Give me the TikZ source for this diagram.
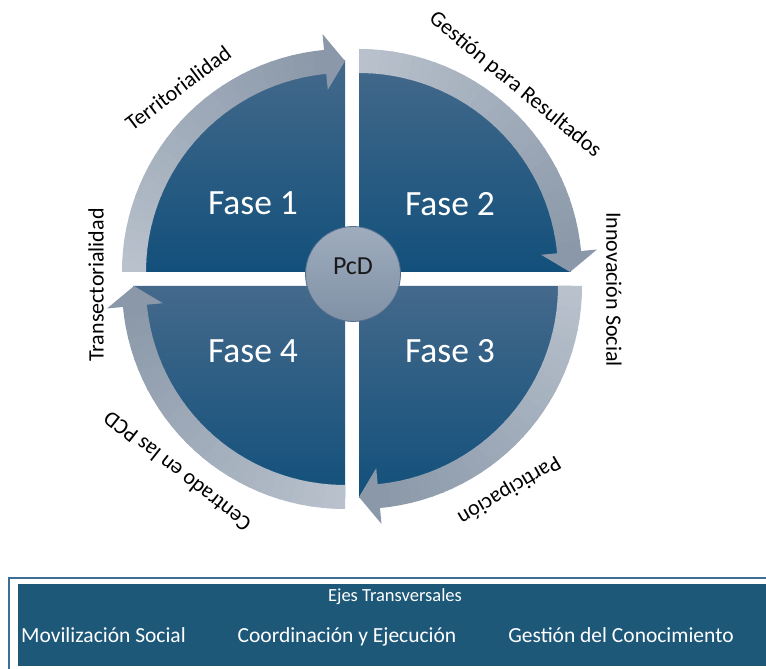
\documentclass[tikz,border=0pt]{standalone}
\usepackage{fontspec}
\setmainfont{Carlito}
\usetikzlibrary{calc}
\definecolor{bandL}{HTML}{B8C1CC}
\definecolor{bandD}{HTML}{8A98A9}
\definecolor{qTop}{HTML}{44698B}
\definecolor{qBot}{HTML}{12507B}
\definecolor{pcdTop}{HTML}{9EACBD}
\definecolor{pcdBot}{HTML}{8191A6}
\definecolor{pcdLine}{HTML}{4F6F8D}
\definecolor{boxFill}{HTML}{1E5879}
\definecolor{boxLine}{HTML}{3C6E97}
\newcommand\phasearrow[2]{%
  \foreach \i in {0,...,29}{%
    \pgfmathsetmacro\aa{#2-\i*84.6/30}%
    \pgfmathsetmacro\ab{#2-(\i+1)*84.6/30-0.4}%
    \pgfmathtruncatemacro\pp{\i*100/29}%
    \fill[bandD!\pp!bandL] (#1) ++(\aa:199) arc[start angle=\aa, end angle=\ab, radius=199] -- ++(\ab:24) arc[start angle=\ab, end angle=\aa, radius=223] -- cycle;
  }%
  \fill[bandD] ($(#1)+(#2-84.6:183)$) -- ($(#1)+(#2-90:211)$) -- ($(#1)+(#2-84.6:239)$) -- cycle;
}
\begin{document}
\begin{tikzpicture}[x=1pt,y=1pt,
  quad/.style={top color=qTop, bottom color=qBot},
  fase/.style={text=white, font=\fontsize{35.5}{40}\selectfont, inner sep=0pt},
  lab/.style={text=black, font=\fontsize{22}{26}\selectfont, inner sep=0pt},
  ejes/.style={text=white, font=\fontsize{21.5}{25}\selectfont, inner sep=0pt, anchor=base}]
\useasboundingbox (0,0) rectangle (766,669);
\fill[white] (0,0) rectangle (766,669);
% corners of the four quadrants
\coordinate (c1) at (345,397);
\coordinate (c2) at (359,397);
\coordinate (c3) at (359,383);
\coordinate (c4) at (345,383);
% quadrants
\shade[quad] (c1) -- ++(180:212) arc[start angle=180, end angle=90, radius=212] -- cycle;
\shade[quad] (c2) -- ++(90:212) arc[start angle=90, end angle=0, radius=212] -- cycle;
\shade[quad] (c3) -- ++(0:212) arc[start angle=0, end angle=-90, radius=212] -- cycle;
\shade[quad] (c4) -- ++(270:212) arc[start angle=270, end angle=180, radius=212] -- cycle;
% arrows
\phasearrow{c1}{180}
\phasearrow{c2}{90}
\phasearrow{c3}{0}
\phasearrow{c4}{270}
% centre
\node[circle, minimum size=95pt, inner sep=0pt, draw=pcdLine, line width=0.8pt, top color=pcdTop, bottom color=pcdBot] (pcd) at (353,395) {};
\node[text=black!90, font=\fontsize{26}{30}\selectfont, inner sep=0pt] (pcdt) at (353,403) {PcD};
% phases
\node[fase] (f1) at (253,466) {Fase 1};
\node[fase] (f2) at (450,465) {Fase 2};
\node[fase] (f3) at (450,318) {Fase 3};
\node[fase] (f4) at (253,318) {Fase 4};
% labels
\node[lab, rotate=37] (l1) at (178,581) {Territorialidad};
\node[lab, rotate=-39.5] (l2) at (515,584) {Gestión para Resultados};
\node[lab, rotate=-90] (l3) at (614,379.5) {Innovación Social};
\node[lab, rotate=-149.5] (l4) at (509,179) {Participación};
\node[lab, rotate=141.8] (l5) at (177,197) {Centrado en las PCD};
\node[lab, rotate=90] (l6) at (96,384) {Transectorialidad};
% bottom box
\draw[boxLine, line width=1.2pt] (9,-5) -- (9,91) -- (775,91);
\fill[boxFill] (18,3) rectangle (775,85);
\node[ejes, font=\fontsize{18.5}{22}\selectfont] (e0) at (395,67) {Ejes Transversales};
\node[ejes] (e1) at (103.5,26) {Movilización Social};
\node[ejes] (e2) at (347,26) {Coordinación y Ejecución};
\node[ejes] (e3) at (621,26) {Gestión del Conocimiento};
\end{tikzpicture}
\end{document}
